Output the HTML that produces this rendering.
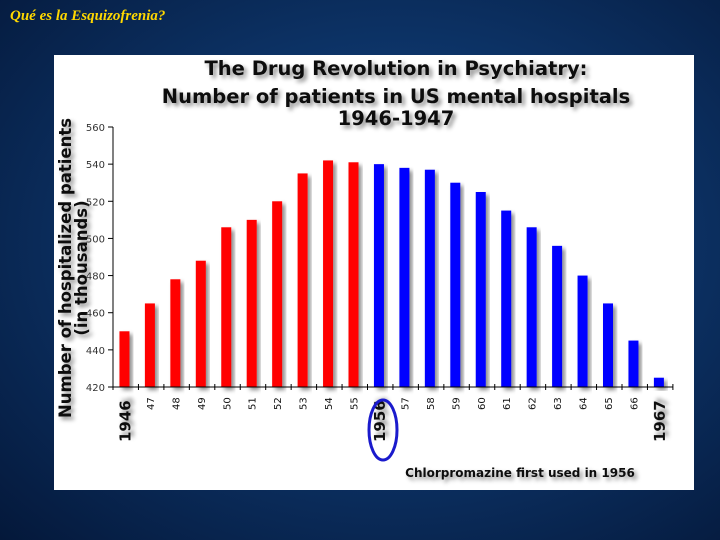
<!DOCTYPE html>
<html><head><meta charset="utf-8"><style>
body{margin:0;width:720px;height:540px;overflow:hidden;background:radial-gradient(ellipse at 55% 45%,#1a4a86 0%,#0d3468 45%,#04183a 100%);font-family:"Liberation Sans",sans-serif;}
#slide-title{position:absolute;left:10px;top:8px;color:#ffd800;font:italic bold 15px "Liberation Serif",serif;}
#panel{position:absolute;left:54px;top:55px;width:640px;height:435px;background:#fff;}
svg text{font-family:"DejaVu Sans","Liberation Sans",sans-serif;}
</style></head><body>
<div id="slide-title">Qué es la Esquizofrenia?</div>
<div id="panel"></div>
<svg width="720" height="540" style="position:absolute;left:0;top:0">
<defs><filter id="sh" x="-20%" y="-20%" width="160%" height="160%"><feDropShadow dx="3" dy="3" stdDeviation="2" flood-color="#000" flood-opacity="0.45"/></filter></defs>
<g filter="url(#sh)" font-weight="bold" fill="#111" text-anchor="middle">
<text x="396" y="75" font-size="19.5">The Drug Revolution in Psychiatry:</text>
<text x="396" y="103" font-size="19.5">Number of patients in US mental hospitals</text>
<text x="396" y="125" font-size="19.5">1946-1947</text>
<text transform="translate(71,268) rotate(-90)" font-size="16.5">Number of hospitalized patients</text>
<text transform="translate(87,268) rotate(-90)" font-size="16.5">(in thousands)</text>
<text x="520" y="477" font-size="12">Chlorpromazine first used in 1956</text>
</g>
<g id="bars"></g>
<g id="axes"></g>
<ellipse cx="383" cy="430" rx="14" ry="30" fill="none" stroke="#1a1acc" stroke-width="3"/>
</svg>
<script>
const years=["1946","47","48","49","50","51","52","53","54","55","1956","57","58","59","60","61","62","63","64","65","66","1967"];
const values=[450,465,478,488,506,510,520,535,542,541,540,538,537,530,525,515,506,496,480,465,445,425];
const yTicks=[420,440,460,480,500,520,540,560];
const NS="http://www.w3.org/2000/svg";
const x0=113,step=25.45,yB=387,yT=127;
const y=v=>yB-(v-420)/(140)*(yB-yT);
const xc=i=>x0+step*(i+0.45);
const bars=document.getElementById('bars'),axes=document.getElementById('axes');
function mk(t,a,p){const e=document.createElementNS(NS,t);for(const k in a)e.setAttribute(k,a[k]);p.appendChild(e);return e;}
values.forEach((v,i)=>{
 const r=mk('rect',{x:xc(i)-5,y:y(v),width:10,height:yB-y(v),fill:i<10?'#ff0000':'#0000ff',filter:'url(#sh)'},bars);
 
 
});
mk('line',{x1:x0,y1:yT,x2:x0,y2:yB,stroke:'#000'},axes);
mk('line',{x1:x0,y1:yB,x2:x0+step*22,y2:yB,stroke:'#000'},axes);
yTicks.forEach(t=>{
 mk('line',{x1:x0-5,y1:y(t),x2:x0,y2:y(t),stroke:'#000'},axes);
 const tx=mk('text',{x:x0-8,y:y(t)+4,'font-size':10,'text-anchor':'end',fill:'#333'},axes);
 tx.textContent=t;
 
 
});
for(let i=0;i<=22;i++)mk('line',{x1:x0+step*i,y1:yB-3,x2:x0+step*i,y2:yB+3,stroke:'#000'},axes);
years.forEach((l,i)=>{
 const big=l.length===4;
 const tx=mk('text',{transform:`translate(${xc(i)+(big?6:4)},${big?442:410}) rotate(-90)`,'font-size':big?15:10,'font-weight':big?'bold':'normal',fill:'#111',filter:big?'url(#sh)':''},axes);
 tx.textContent=l;
 
 
});
</script>
</body></html>
